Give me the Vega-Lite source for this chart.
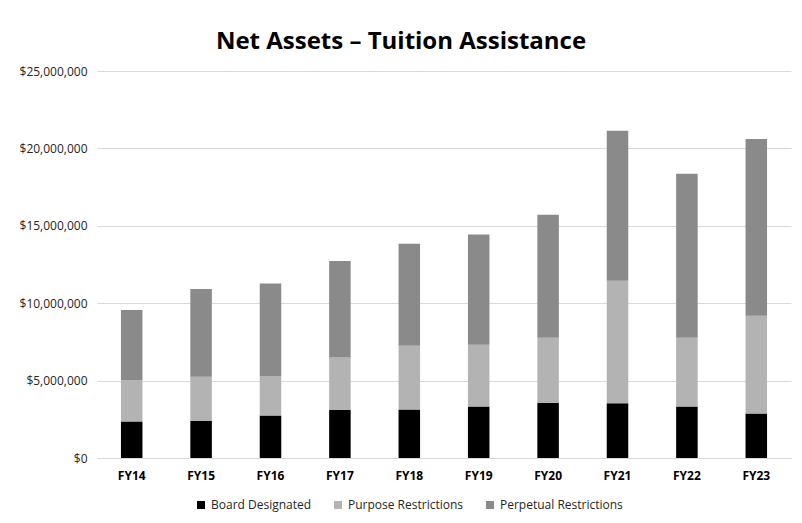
{
  "$schema": "https://vega.github.io/schema/vega-lite/v6.json",
  "width": 694,
  "height": 387,
  "autosize": {"type": "none"},
  "padding": {"left": 97, "top": 71, "right": 11, "bottom": 65},
  "background": "white",
  "title": {
    "text": "Net Assets – Tuition Assistance",
    "font": "Open Sans",
    "fontSize": 24,
    "fontWeight": "bold",
    "color": "#000000",
    "anchor": "middle",
    "dx": -43,
    "offset": 11
  },
  "data": {
    "values": [
      {"year": "FY14", "category": "Board Designated", "value": 2360000},
      {"year": "FY14", "category": "Purpose Restrictions", "value": 2640000},
      {"year": "FY14", "category": "Perpetual Restrictions", "value": 4560000},
      {"year": "FY15", "category": "Board Designated", "value": 2410000},
      {"year": "FY15", "category": "Purpose Restrictions", "value": 2840000},
      {"year": "FY15", "category": "Perpetual Restrictions", "value": 5670000},
      {"year": "FY16", "category": "Board Designated", "value": 2750000},
      {"year": "FY16", "category": "Purpose Restrictions", "value": 2550000},
      {"year": "FY16", "category": "Perpetual Restrictions", "value": 5980000},
      {"year": "FY17", "category": "Board Designated", "value": 3100000},
      {"year": "FY17", "category": "Purpose Restrictions", "value": 3400000},
      {"year": "FY17", "category": "Perpetual Restrictions", "value": 6220000},
      {"year": "FY18", "category": "Board Designated", "value": 3140000},
      {"year": "FY18", "category": "Purpose Restrictions", "value": 4110000},
      {"year": "FY18", "category": "Perpetual Restrictions", "value": 6590000},
      {"year": "FY19", "category": "Board Designated", "value": 3330000},
      {"year": "FY19", "category": "Purpose Restrictions", "value": 3990000},
      {"year": "FY19", "category": "Perpetual Restrictions", "value": 7120000},
      {"year": "FY20", "category": "Board Designated", "value": 3570000},
      {"year": "FY20", "category": "Purpose Restrictions", "value": 4200000},
      {"year": "FY20", "category": "Perpetual Restrictions", "value": 7950000},
      {"year": "FY21", "category": "Board Designated", "value": 3530000},
      {"year": "FY21", "category": "Purpose Restrictions", "value": 7920000},
      {"year": "FY21", "category": "Perpetual Restrictions", "value": 9690000},
      {"year": "FY22", "category": "Board Designated", "value": 3330000},
      {"year": "FY22", "category": "Purpose Restrictions", "value": 4440000},
      {"year": "FY22", "category": "Perpetual Restrictions", "value": 10600000},
      {"year": "FY23", "category": "Board Designated", "value": 2880000},
      {"year": "FY23", "category": "Purpose Restrictions", "value": 6310000},
      {"year": "FY23", "category": "Perpetual Restrictions", "value": 11420000}
    ]
  },
  "transform": [
    {"calculate": "indexof(['Board Designated','Purpose Restrictions','Perpetual Restrictions'], datum.category)", "as": "stackOrder"}
  ],
  "mark": {"type": "bar"},
  "encoding": {
    "x": {
      "field": "year",
      "type": "nominal",
      "scale": {"paddingInner": 0.69, "paddingOuter": 0.345},
      "axis": {
        "title": null,
        "labelAngle": 0,
        "labelFont": "Open Sans",
        "labelFontSize": 12,
        "labelFontWeight": "bold",
        "labelColor": "#000000",
        "labelPadding": 12,
        "ticks": false,
        "domainColor": "#d9d9d9",
        "domainWidth": 1
      }
    },
    "y": {
      "field": "value",
      "type": "quantitative",
      "stack": "zero",
      "scale": {"domain": [0, 25000000], "nice": false},
      "axis": {
        "title": null,
        "values": [0, 5000000, 10000000, 15000000, 20000000, 25000000],
        "format": "$,.0f",
        "labelFont": "Open Sans",
        "labelFontSize": 12,
        "labelColor": "#262626",
        "labelPadding": 10,
        "domain": false,
        "ticks": false,
        "gridColor": "#d9d9d9",
        "gridWidth": 1
      }
    },
    "order": {"field": "stackOrder", "type": "quantitative", "sort": "ascending"},
    "color": {
      "field": "category",
      "type": "nominal",
      "sort": ["Board Designated", "Purpose Restrictions", "Perpetual Restrictions"],
      "scale": {
        "domain": ["Board Designated", "Purpose Restrictions", "Perpetual Restrictions"],
        "range": ["#000000", "#b3b3b3", "#8a8a8a"]
      },
      "legend": {
        "title": null,
        "orient": "none",
        "direction": "horizontal",
        "legendX": 98,
        "legendY": 428,
        "symbolType": "square",
        "symbolSize": 64,
        "symbolStrokeWidth": 0,
        "labelFont": "Open Sans",
        "labelFontSize": 12,
        "labelColor": "#262626",
        "labelOffset": 4,
        "columnPadding": 20
      }
    }
  },
  "config": {
    "view": {"stroke": null}
  }
}
